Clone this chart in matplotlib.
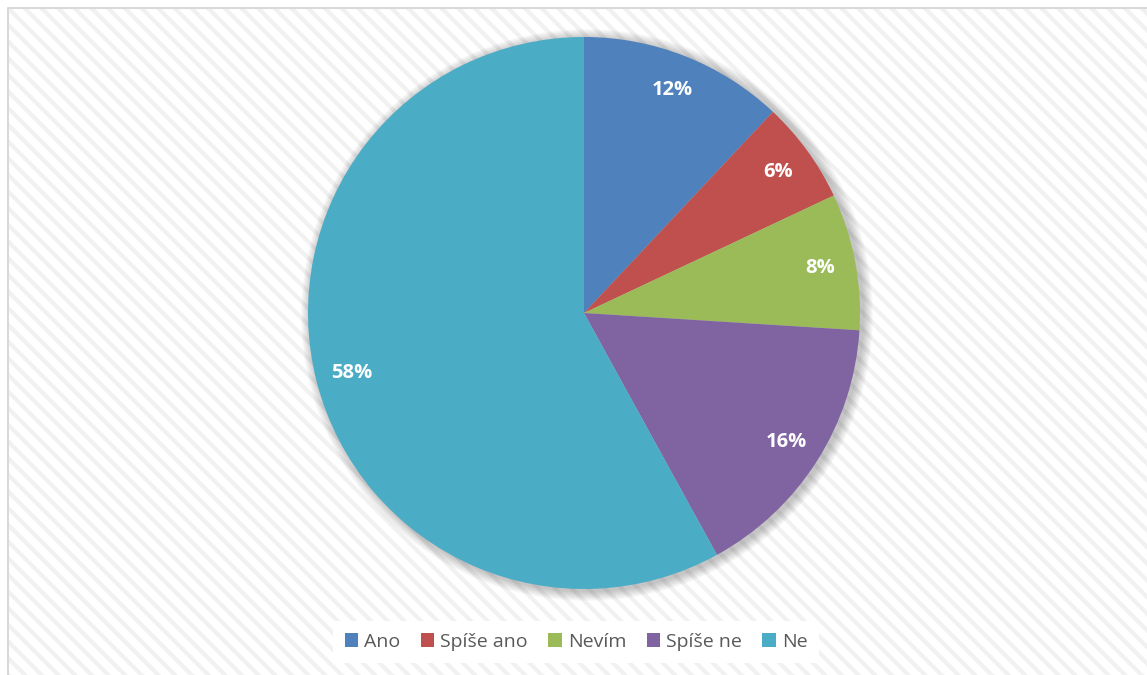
import matplotlib.pyplot as plt
from matplotlib.patches import Rectangle, Circle

# Survey answers
labels = ["Ano", "Spíše ano", "Nevím", "Spíše ne", "Ne"]
shares = [12, 6, 8, 16, 58]
colors = ["#4f81bd", "#c0504d", "#9bbb59", "#8064a2", "#4bacc6"]

plt.rcParams["font.family"] = ["Open Sans", "DejaVu Sans"]
plt.rcParams["hatch.linewidth"] = 3.0

W, H = 1147, 675
fig = plt.figure(figsize=(W / 100, H / 100), dpi=100)
ax = fig.add_axes([0, 0, 1, 1])

# striped chart area with a thin grey frame
bg = Rectangle((8, -20), W + 40, H - 8 + 20, facecolor="white",
               edgecolor="#f1f1f1", hatch="\\\\", linewidth=0, zorder=0)
ax.add_patch(bg)
ax.plot([8, 8, W + 10], [-10, H - 8, H - 8], color="#d9d9d9", lw=1.5, zorder=1)

cx, cy, r = 584, H - 313, 276

# soft shadow behind the pie
for i in range(10):
    ax.add_patch(Circle((cx + 3, cy - 2), r + 1 + i, color="black",
                        alpha=0.022, lw=0, zorder=2))

wedges, _, autotexts = ax.pie(
    shares, colors=colors, startangle=90, counterclock=False,
    center=(cx, cy), radius=r, frame=True,
    autopct="%.0f%%", pctdistance=0.87,
    wedgeprops=dict(linewidth=0, zorder=3),
    textprops=dict(color="white", fontsize=14.5, fontweight="bold"),
)
for t in autotexts:
    t.set_zorder(5)

ax.set_xlim(0, W)
ax.set_ylim(0, H)
ax.set_aspect("equal")
ax.axis("off")

leg = ax.legend(wedges, labels, ncol=5, loc="center",
                bbox_to_anchor=(576 / W, 1 - 642 / H),
                frameon=True, facecolor="white", edgecolor="none",
                framealpha=1, fancybox=False,
                fontsize=14, handlelength=0.7, handleheight=0.7,
                handletextpad=0.3, columnspacing=1.05, borderpad=0.6)
for t in leg.get_texts():
    t.set_color("#595959")

fig.savefig("out.png", dpi=100)
